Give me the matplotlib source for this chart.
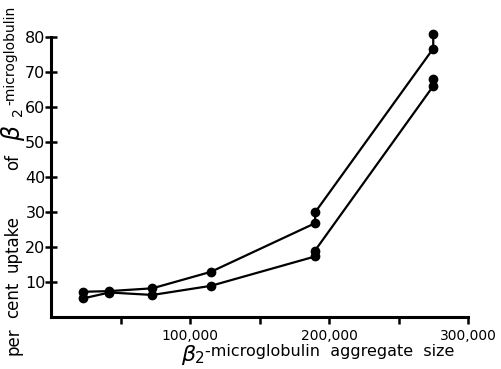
import matplotlib
matplotlib.use("Agg")
import matplotlib.pyplot as plt

# aggregate size (x) and per cent uptake (y)
# each curve passes through both replicate points at the two largest sizes
sizes_upper = [23000, 42000, 73000, 115000, 190000, 190000, 275000, 275000]
uptake_upper = [7.2, 7.4, 8.2, 12.9, 26.8, 29.9, 76.7, 80.9]

sizes_lower = [23000, 42000, 73000, 115000, 190000, 190000, 275000, 275000]
uptake_lower = [5.3, 7.0, 6.3, 8.9, 17.3, 19.0, 66.0, 68.0]

xticks_major = [100000, 200000, 300000]
xticks_minor = [50000, 150000, 250000]
xtick_labels = ["100,000", "200,000", "300,000"]
yticks = [10, 20, 30, 40, 50, 60, 70, 80]

W, H = 502, 369
fig = plt.figure(figsize=(W / 100, H / 100), dpi=100)
ax = fig.add_axes([51 / W, 1 - 317 / H, (468 - 51) / W, (317 - 37) / H])

for xs, ys in [(sizes_upper, uptake_upper), (sizes_lower, uptake_lower)]:
    ax.plot(xs, ys, color="black", lw=1.6, marker="o", ms=6,
            clip_on=False, zorder=3)

ax.set_xlim(0, 300000)
ax.set_ylim(0, 80)
for s in ["top", "right"]:
    ax.spines[s].set_visible(False)
for s in ["left", "bottom"]:
    ax.spines[s].set_linewidth(2.2)

ax.set_xticks(xticks_major)
ax.set_xticklabels(xtick_labels, fontsize=10)
ax.set_xticks(xticks_minor, minor=True)
ax.tick_params(axis="x", which="both", direction="out", length=5, width=1.8, pad=3.5)
ax.set_yticks(yticks)
ax.set_yticklabels([str(v) for v in yticks], fontsize=11.5)
ax.tick_params(axis="y", direction="inout", length=8, width=1.8, pad=0)

# x label: large beta with subscript, rest raised
fig.text(181 / W, 1 - 361 / H, r"$\beta$", fontsize=16, ha="left", va="baseline")
fig.text(195 / W, 1 - 363 / H, "2", fontsize=11, ha="left", va="baseline")
fig.text(205 / W, 1 - 356 / H, "-microglobulin  aggregate  size", fontsize=11.5,
         ha="left", va="baseline")

# y label, rotated, written word by word
ylab_words = [("per", 355), ("cent", 318), ("uptake", 272), ("of", 170)]
for word, ystart in ylab_words:
    fig.text(18 / W, 1 - ystart / H, word, fontsize=12, rotation=90,
             rotation_mode="anchor", ha="left", va="baseline")
fig.text(20 / W, 1 - 141 / H, r"$\beta$", fontsize=17, rotation=90,
         rotation_mode="anchor", ha="left", va="baseline")
fig.text(22 / W, 1 - 116 / H, "2", fontsize=10, rotation=90,
         rotation_mode="anchor", ha="left", va="baseline")
fig.text(14 / W, 1 - 105 / H, "-microglobulin", fontsize=10, rotation=90,
         rotation_mode="anchor", ha="left", va="baseline")

fig.savefig("out.png", dpi=100)
